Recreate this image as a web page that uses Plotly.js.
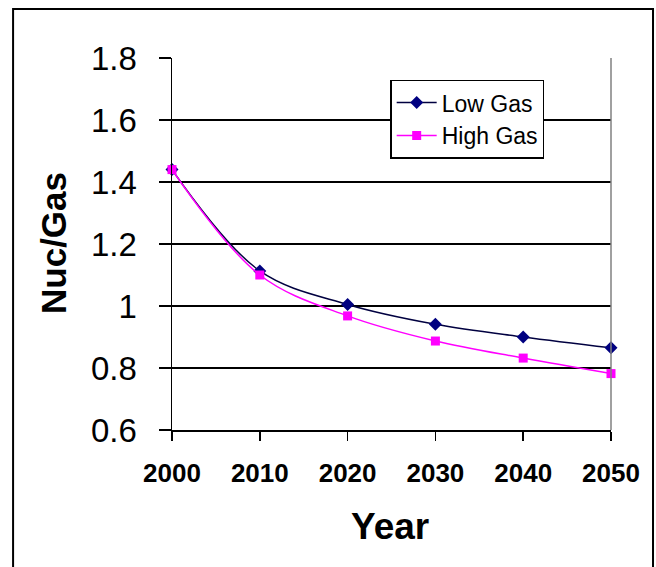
<!DOCTYPE html>
<html>
<head>
<meta charset="utf-8">
<script src="https://cdn.plot.ly/plotly-3.0.1.min.js"></script>
<style>html,body{margin:0;padding:0;background:#fff;}#chart{width:656px;height:567px;}</style>
</head>
<body>
<div id="chart"></div>
<script>
var years = [2000, 2010, 2020, 2030, 2040, 2050];
var lowGas = [1.44, 1.113, 1.005, 0.941, 0.90, 0.865];
var highGas = [1.44, 1.10, 0.968, 0.887, 0.832, 0.782];
var yTickVals = [0.6, 0.8, 1.0, 1.2, 1.4, 1.6, 1.8];
var yTickText = ['0.6', '0.8', '1', '1.2', '1.4', '1.6', '1.8'];
var xTickText = ['2000', '2010', '2020', '2030', '2040', '2050'];

var traces = [
  {x: years, y: lowGas, name: 'Low Gas', type: 'scatter', mode: 'lines+markers', cliponaxis: false,
   line: {color: '#000040', width: 1.5, shape: 'spline'},
   marker: {symbol: 'diamond', size: 10, color: '#000080'}},
  {x: years, y: highGas, name: 'High Gas', type: 'scatter', mode: 'lines+markers', cliponaxis: false,
   line: {color: '#FF00FF', width: 1.5, shape: 'spline'},
   marker: {symbol: 'square', size: 9, color: '#FF00FF'}}
];

var layout = {
  width: 656, height: 567,
  margin: {l: 172, r: 45, t: 58, b: 137},
  paper_bgcolor: '#fff', plot_bgcolor: '#fff',
  showlegend: true,
  font: {family: 'Liberation Sans, Arial, sans-serif', color: '#000'},
  xaxis: {
    range: [2000, 2050], tickvals: years, ticktext: xTickText,
    showgrid: false, zeroline: false, showline: true, linecolor: '#000', linewidth: 1.5,
    ticks: 'outside', ticklen: 9, tickwidth: 1.5, tickcolor: '#000',
    ticklabelstandoff: 10,
    tickfont: {size: 26, family: 'Liberation Sans, Arial, sans-serif', weight: 'bold'}
  },
  yaxis: {
    range: [0.6, 1.8], tickvals: yTickVals, ticktext: yTickText,
    showgrid: true, gridcolor: '#000', gridwidth: 1.5, zeroline: false,
    showline: true, linecolor: '#000', linewidth: 1.5,
    ticks: 'outside', ticklen: 12, tickwidth: 1.5, tickcolor: '#000',
    ticklabelstandoff: 15,
    tickfont: {size: 33, family: 'Liberation Sans, Arial, sans-serif'}
  },
  legend: {
    x: 0.497, y: 0.942, xanchor: 'left', yanchor: 'top',
    bgcolor: '#fff', bordercolor: '#000', borderwidth: 1.5,
    itemwidth: 40,
    font: {size: 23, family: 'Liberation Sans, Arial, sans-serif', color: '#000'},
    tracegroupgap: 0
  },
  shapes: [
    {type: 'line', xref: 'paper', yref: 'paper', x0: 1, x1: 1, y0: 0, y1: 1,
     line: {color: '#808080', width: 1.5}},
    {type: 'rect', xref: 'paper', yref: 'paper', x0: -0.362, x1: 1.0957, y0: -0.42, y1: 1.1317,
     line: {color: '#000', width: 2}, layer: 'below'}
  ],
  annotations: [
    {text: 'Year', xref: 'paper', yref: 'paper', x: 0.497, y: -0.2594,
     xanchor: 'center', yanchor: 'middle', showarrow: false,
     font: {size: 37, family: 'Liberation Sans, Arial, sans-serif', weight: 'bold', color: '#000'}},
    {text: 'Nuc/Gas', xref: 'paper', yref: 'paper', x: -0.27, y: 0.504,
     xanchor: 'center', yanchor: 'middle', textangle: -90, showarrow: false,
     font: {size: 35, family: 'Liberation Sans, Arial, sans-serif', weight: 'bold', color: '#000'}}
  ]
};

Plotly.newPlot('chart', traces, layout, {staticPlot: true, displayModeBar: false});
</script>
</body>
</html>
